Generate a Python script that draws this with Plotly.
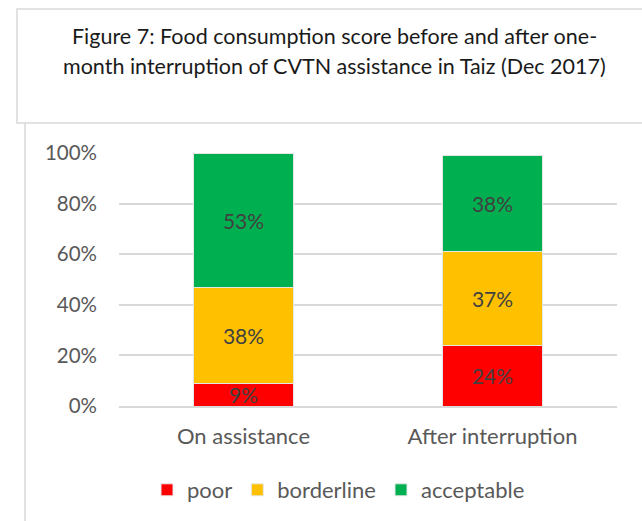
import plotly.graph_objects as go

categories = ["On assistance", "After interruption"]
poor = [9, 24]
borderline = [38, 37]
acceptable = [53, 38]
series_names = ["poor", "borderline", "acceptable"]
colors = ["#FF0000", "#FFC000", "#00B050"]
title_lines = ["Figure 7: Food consumption score before and after one-",
               "month interruption of CVTN assistance in Taiz (Dec 2017)"]

W, H = 642, 521
L, R, T, B = 119, 617, 153, 406

FONT = "Lato, Carlito, Calibri, sans-serif"

fig = go.Figure()
for name, vals, c in zip(series_names, [poor, borderline, acceptable], colors):
    fig.add_trace(go.Bar(
        x=categories, y=vals, name=name,
        marker=dict(color=c, line=dict(color="#E6E6E6", width=1)),
        text=[f"{v}%" for v in vals], textposition="inside",
        insidetextanchor="middle", constraintext="none",
        textfont=dict(size=21, color="#404040", family=FONT),
        width=0.4, hoverinfo="skip",
    ))

def px2x(px):
    return (px - L) / (R - L)

def py2y(py):
    return (B - py) / (B - T)

shapes = [
    dict(type="rect", xref="paper", yref="paper",
         x0=px2x(17), x1=px2x(700), y0=py2y(9), y1=py2y(123),
         line=dict(color="#D9D9D9", width=1.5), fillcolor="rgba(0,0,0,0)"),
    dict(type="line", xref="paper", yref="paper",
         x0=px2x(25), x1=px2x(25), y0=py2y(123), y1=py2y(530),
         line=dict(color="#D9D9D9", width=1.5)),
]

annotations = [
    dict(text=line, xref="paper", yref="paper",
         x=px2x(334), y=py2y(cy), xanchor="center", yanchor="middle",
         showarrow=False, align="center",
         font=dict(size=21.5, color="#1a1a1a", family=FONT))
    for line, cy in zip(title_lines, [36, 66])
]

fig.update_layout(
    width=W, height=H,
    margin=dict(l=L, r=W - R, t=T, b=H - B, autoexpand=False),
    barmode="stack",
    bargap=0.6,
    paper_bgcolor="white", plot_bgcolor="white",
    font=dict(family=FONT, color="#595959"),
    showlegend=True,
    legend=dict(orientation="h", x=px2x(147), xanchor="left",
                y=py2y(490), yanchor="middle",
                font=dict(size=22, color="#595959", family=FONT),
                traceorder="normal", itemwidth=30),
    shapes=shapes,
    annotations=annotations,
)
fig.update_xaxes(showgrid=False, showline=True, linecolor="#D9D9D9", linewidth=1.5,
                 ticks="", ticklabelstandoff=10,
                 tickfont=dict(size=22, color="#595959", family=FONT))
fig.update_yaxes(range=[0, 100], dtick=20, ticksuffix="%", showgrid=True,
                 gridcolor="#D9D9D9", gridwidth=1.5, zeroline=False,
                 showline=False, ticks="", ticklabelstandoff=21,
                 tickfont=dict(size=20.5, color="#595959", family=FONT))

fig.write_html("out.html", config={"displayModeBar": False},
               post_script="document.body.style.margin='0px';")
